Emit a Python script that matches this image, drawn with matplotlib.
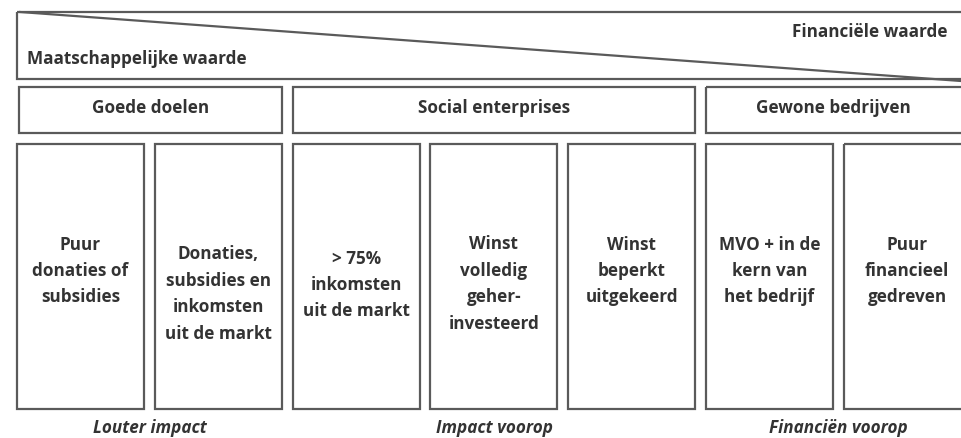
import matplotlib
matplotlib.use("Agg")
import matplotlib.pyplot as plt
from matplotlib.patches import Rectangle

# labels of the diagram
top_left_label = "Maatschappelijke waarde"
top_right_label = "Financiële waarde"
groups = ["Goede doelen", "Social enterprises", "Gewone bedrijven"]
group_spans = [(0, 1), (2, 4), (5, 6)]   # first and last column of each group
columns = [
    "Puur\ndonaties of\nsubsidies",
    "Donaties,\nsubsidies en\ninkomsten\nuit de markt",
    "> 75%\ninkomsten\nuit de markt",
    "Winst\nvolledig\ngeher-\ninvesteerd",
    "Winst\nbeperkt\nuitgekeerd",
    "MVO + in de\nkern van\nhet bedrijf",
    "Puur\nfinancieel\ngedreven",
]
bottom_labels = ["Louter impact", "Impact voorop", "Financiën voorop"]

# layout (pixels)
W, H = 961, 439
col_x0, col_pitch, col_w = 17, 137.8, 127
col_top, col_bot = 145, 410
text_y = [271, 294, 285, 284, 271, 271, 271]
bottom_x = [150, 494, 838]
edge = "#5a5a5a"
ink = "#333333"
font = "Open Sans"
fs = 12.3

fig = plt.figure(figsize=(W / 100, H / 100), dpi=100)
ax = fig.add_axes([0, 0, 1, 1])
ax.set_xlim(0, W)
ax.set_ylim(H, 0)
ax.axis("off")

# top band with diagonal
ax.add_patch(Rectangle((17, 13), 990, 67, fill=False, ec=edge, lw=1.6))
ax.plot([20, W], [13, 82], color=edge, lw=1.6)
ax.text(27, 59, top_left_label, fontsize=fs, fontweight="bold", color=ink,
        family=font, va="center", ha="left")
ax.text(947, 32, top_right_label, fontsize=fs, fontweight="bold", color=ink,
        family=font, va="center", ha="right")

# group boxes
for name, (a, b) in zip(groups, group_spans):
    x0 = col_x0 + a * col_pitch + (2 if a == 0 else 0)
    x1 = col_x0 + b * col_pitch + col_w
    ax.add_patch(Rectangle((x0, 88), x1 - x0, 46, fill=False, ec=edge, lw=1.6))
    ax.text((x0 + min(x1, W)) / 2, 108, name, fontsize=fs, fontweight="bold",
            color=ink, family=font, ha="center", va="center")

# column boxes
for i, txt in enumerate(columns):
    x0 = col_x0 + i * col_pitch
    ax.add_patch(Rectangle((x0, col_top), col_w, col_bot - col_top, fill=False,
                           ec=edge, lw=1.6))
    ax.text(x0 + col_w / 2, text_y[i], txt, fontsize=fs, fontweight="bold",
            color=ink, family=font, ha="center", va="center", linespacing=1.6)

# bottom captions
for x, txt in zip(bottom_x, bottom_labels):
    ax.text(x, 428, txt, fontsize=fs, fontweight="bold", style="italic",
            color=ink, family=font, ha="center", va="center")

fig.savefig("out.png", dpi=100)
